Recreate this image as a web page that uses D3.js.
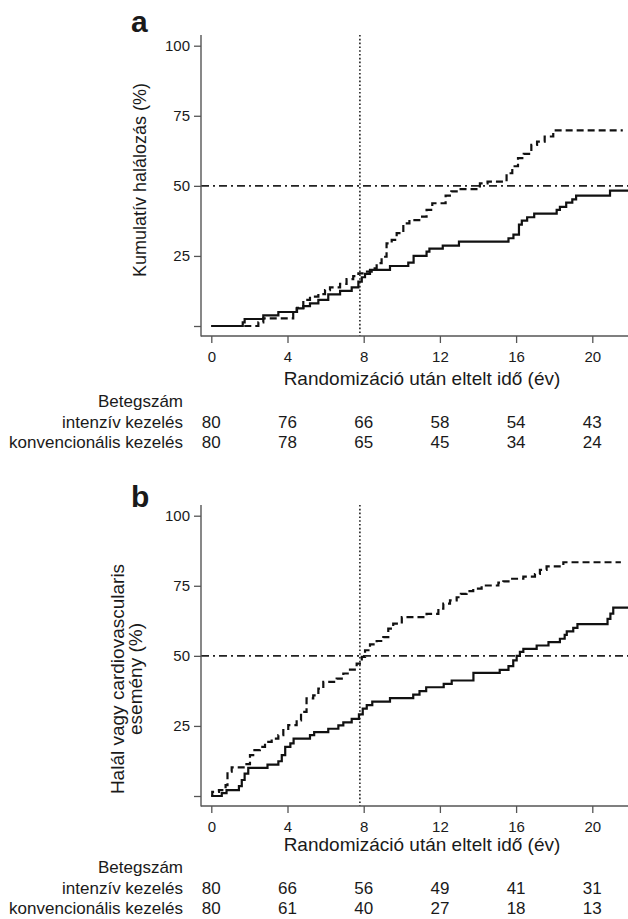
<!DOCTYPE html>
<html lang="hu">
<head>
    <meta charset="UTF-8">
    <title>Kumulatív halálozás</title>
    <style>
        body { margin: 0; background: #fff; }
        text { font-family: "Liberation Sans", Arial, sans-serif; fill: #1a1a1a; }
    </style>
</head>
<body>
<script src="https://d3js.org/d3.v7.min.js"></script>
<script>
    // Data: [years, percent], step after each point
    // panel a - solid (intenzív kezelés)
    const solidA = [[0, 0], [1.65, 1.3], [1.75, 2.5], [2.73, 3.8], [3.52, 5.0], [4.48, 6.3], [4.83, 7.1],
        [5.18, 8.1], [5.62, 9.3], [6.14, 11.3], [6.76, 12.5], [7.37, 13.8], [7.72, 15.8], [7.9, 17.4],
        [8.07, 18.6], [8.33, 20], [9.38, 21.4], [10.34, 22.6], [10.62, 25], [11.3, 26.5], [11.45, 27.6],
        [12.15, 28.7], [13.0, 30.1], [15.6, 31.3], [15.86, 32.6], [16.15, 36.2], [16.3, 37.6], [16.58, 38.8],
        [16.95, 40.1], [18.13, 41.4], [18.3, 42.5], [18.63, 44], [18.95, 45.2], [19.15, 46.5], [20.93, 48.3],
        [21.95, 48.3]];
    // panel a - dashed (konvencionális kezelés)
    const dashedA = [[0, 0], [2.47, 1.3], [2.73, 2.7], [4.3, 5], [4.5, 6.5], [4.83, 9.3], [5.18, 10.5],
        [5.62, 11.4], [5.97, 12.8], [6.23, 13.8], [6.76, 15], [7.1, 16.7], [7.45, 17.8], [7.72, 18.8],
        [8.07, 19.4], [8.42, 20.6], [8.68, 22.4], [8.94, 24.7], [9.2, 29.5], [9.47, 30.7], [9.73, 33.1],
        [10.08, 36.6], [10.4, 37.8], [11.0, 39], [11.3, 41.4], [11.6, 43.8], [12.3, 46.5], [12.6, 48],
        [13.0, 48.8], [14.1, 50.9], [14.5, 51.5], [15.5, 54.5], [15.8, 57], [16.1, 59.9], [16.4, 61.4],
        [16.8, 64.6], [17.1, 65.8], [17.5, 67.6], [17.95, 69.8], [21.6, 69.8]];
    // panel b - solid
    const solidB = [[0, 0], [0.55, 1], [0.8, 2.1], [1.45, 3.5], [1.6, 5.7], [1.75, 8], [1.94, 10],
        [2.95, 11.2], [3.52, 12.4], [3.7, 14.6], [3.88, 17.5], [4.15, 18.8], [4.32, 20.5], [5.18, 21.7],
        [5.4, 22.8], [6.14, 24], [6.67, 25.2], [6.93, 26.3], [7.37, 27.5], [7.75, 29.1], [7.95, 31.2],
        [8.16, 32.4], [8.45, 33.7], [9.38, 34.9], [10.6, 36.2], [10.93, 37.4], [11.28, 38.8], [12.2, 40],
        [12.62, 41.2], [13.76, 43.9], [15.14, 45], [15.6, 46.3], [15.85, 48.4], [16.03, 50], [16.2, 51.4],
        [16.38, 52.5], [17.08, 53.7], [17.7, 54.9], [18.3, 56.1], [18.55, 57.5], [18.66, 58.7], [19, 60],
        [19.22, 61.3], [20.8, 63.2], [20.95, 65.1], [21.1, 67.2], [21.95, 67.2]];
    // panel b - dashed
    const dashedB = [[0, 0], [0.05, 1.5], [0.4, 2.1], [0.75, 3.9], [0.85, 8.7], [1.07, 10.2], [1.77, 11.4],
        [2.03, 14.6], [2.2, 16.4], [2.55, 17.5], [2.82, 19.3], [3.17, 20.5], [3.52, 21.7], [3.78, 23.5],
        [4.04, 25.3], [4.48, 27], [4.71, 30], [5.0, 34.8], [5.35, 35.9], [5.62, 38.3], [5.88, 40.7],
        [6.58, 41.9], [6.93, 43.7], [7.28, 45.1], [7.63, 47.2], [7.9, 49.6], [8.07, 52], [8.33, 54.1],
        [8.68, 55.3], [9.03, 56.7], [9.29, 59.7], [9.55, 61.5], [10.0, 63.8], [11.3, 65], [11.92, 66.8],
        [12.18, 68.6], [12.53, 69.8], [12.88, 70.9], [13.1, 72.1], [13.4, 73.1], [13.75, 74], [14.19, 75.1],
        [15.07, 76.1], [15.33, 76.6], [15.68, 77.5], [16.38, 78.3], [16.99, 79.2], [17.25, 80.7],
        [17.6, 81.9], [18.48, 83.4], [21.5, 83.4]];

    const xTicks = [0, 4, 8, 12, 16, 20];
    const yTicks = [0, 25, 50, 75, 100];
    const yTickLabels = ["", "25", "50", "75", "100"];
    const riskIntA = [80, 76, 66, 58, 54, 43];
    const riskKonvA = [80, 78, 65, 45, 34, 24];
    const riskIntB = [80, 66, 56, 49, 41, 31];
    const riskKonvB = [80, 61, 40, 27, 18, 13];
    const rowLabels = ["Betegszám", "intenzív kezelés", "konvencionális kezelés"];
    const xTitle = "Randomizáció után eltelt idő (év)";
    const yTitleA = ["Kumulatív halálozás (%)"];
    const yTitleB = ["Halál vagy cardiovascularis", "esemény (%)"];
    const landmarkYear = 7.8;
    const medianLine = 50;

    const width = 628;
    const height = 919;
    const axisX = 201;       // y axis line
    const panelShift = 470;  // panel b is a copy of panel a moved down

    const svg = d3.select("body")
        .append("svg")
        .attr("width", width)
        .attr("height", height);

    const x = d3.scaleLinear().domain([0, 20]).range([211.3, 592.3]);
    const y = d3.scaleLinear().domain([0, 100]).range([326, 45.7]);

    const line = d3.line()
        .x(d => x(d[0]))
        .y(d => y(d[1]))
        .curve(d3.curveStepAfter);

    // opts: label offsets that differ a little between the two panels
    function drawPanel(i, solid, dashed, riskInt, riskKonv, label, yTitle, opts) {
        const g = svg.append("g")
            .attr("transform", "translate(0," + i * panelShift + ")");

        // reference lines
        g.append("line")
            .attr("x1", x(landmarkYear)).attr("x2", x(landmarkYear))
            .attr("y1", 35).attr("y2", 336)
            .attr("stroke", "#222").attr("stroke-width", 1.6)
            .attr("stroke-dasharray", "1.6,2.2");
        g.append("line")
            .attr("x1", axisX).attr("x2", width)
            .attr("y1", y(medianLine)).attr("y2", y(medianLine))
            .attr("stroke", "#222").attr("stroke-width", 1.6)
            .attr("stroke-dasharray", "8,4,2,4");

        // curves
        g.append("path")
            .datum(dashed)
            .attr("fill", "none")
            .attr("stroke", "#111")
            .attr("stroke-width", 2.2)
            .attr("stroke-dasharray", "7,4")
            .attr("d", line);
        g.append("path")
            .datum(solid)
            .attr("fill", "none")
            .attr("stroke", "#111")
            .attr("stroke-width", 2.2)
            .attr("d", line);

        // axes
        const yAxis = g.append("g")
            .attr("transform", "translate(" + axisX + ",0)")
            .call(d3.axisLeft(y).tickValues(yTicks).tickFormat((d, k) => yTickLabels[k]).tickSize(7).tickPadding(4));
        const xAxis = g.append("g")
            .attr("transform", "translate(0,336)")
            .call(d3.axisBottom(x).tickValues(xTicks).tickSize(7).tickPadding(8));
        [yAxis, xAxis].forEach(a => {
            a.select(".domain").remove();
            a.selectAll("line").attr("stroke", "#555").attr("stroke-width", 1.3);
            a.selectAll("text").attr("font-size", 15).attr("fill", "#1a1a1a")
                .attr("font-family", '"Liberation Sans", Arial, sans-serif');
        });
        g.append("line")
            .attr("x1", axisX).attr("x2", axisX).attr("y1", 35).attr("y2", 336.6)
            .attr("stroke", "#555").attr("stroke-width", 1.4);
        g.append("line")
            .attr("x1", axisX).attr("x2", width).attr("y1", 336).attr("y2", 336)
            .attr("stroke", "#555").attr("stroke-width", 1.4);

        // panel letter
        g.append("text")
            .attr("x", 131).attr("y", 32 + opts.letterDy)
            .attr("font-size", 30).attr("font-weight", "bold")
            .text(label);

        // y title
        const yt = g.append("text")
            .attr("transform", "translate(" + opts.titleX + "," + opts.titleMid + ") rotate(-90)")
            .attr("text-anchor", "middle")
            .attr("font-size", opts.titleSize);
        yTitle.forEach((t, k) => {
            yt.append("tspan")
                .attr("x", 0)
                .attr("y", (k - (yTitle.length - 1) / 2) * 18 + 6)
                .text(t);
        });

        // x title
        g.append("text")
            .attr("x", 422).attr("y", 385 + opts.belowDy)
            .attr("text-anchor", "middle")
            .attr("font-size", 19)
            .text(xTitle);

        // number at risk table
        const rowY = [407, 428, 448].map(v => v + opts.belowDy);
        g.selectAll(".rowlabel")
            .data(rowLabels)
            .enter()
            .append("text")
            .attr("x", 183)
            .attr("y", (d, k) => rowY[k])
            .attr("text-anchor", "end")
            .attr("font-size", 17)
            .text(d => d);
        [riskInt, riskKonv].forEach((row, r) => {
            g.selectAll(".risk" + r)
                .data(row)
                .enter()
                .append("text")
                .attr("x", (d, k) => x(xTicks[k]))
                .attr("y", rowY[r + 1])
                .attr("text-anchor", "middle")
                .attr("font-size", 17)
                .text(d => d);
        });
    }

    drawPanel(0, solidA, dashedA, riskIntA, riskKonvA, "a", yTitleA,
        {letterDy: 0, titleX: 140, titleMid: 180, titleSize: 18, belowDy: 0});
    drawPanel(1, solidB, dashedB, riskIntB, riskKonvB, "b", yTitleB,
        {letterDy: 5, titleX: 127, titleMid: 679 - panelShift, titleSize: 19, belowDy: -4});
</script>
</body>
</html>
